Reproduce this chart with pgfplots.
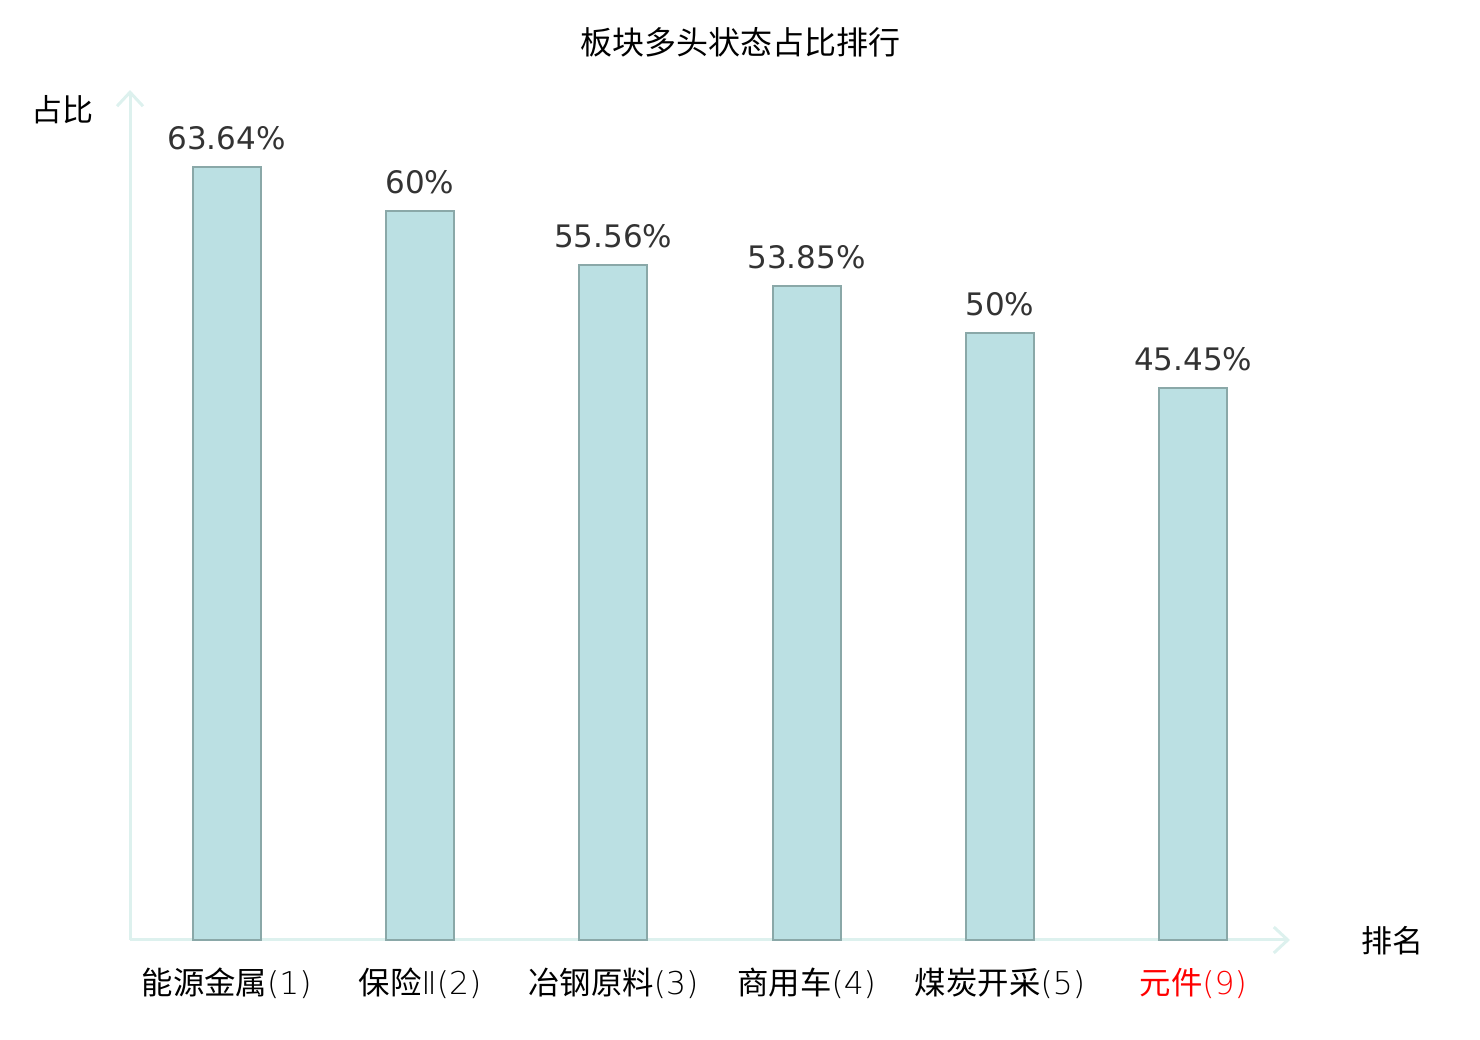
\documentclass[border=0pt]{standalone}
\usepackage{pgfplots}
\pgfplotsset{compat=1.18}
\usetikzlibrary{arrows.meta}
\usepackage{fontspec}
\setmainfont{DejaVu Sans}
\newfontfamily\cjk{Noto Sans CJK SC}
\newfontfamily\dvl{DejaVu Sans ExtraLight}
\definecolor{axcol}{HTML}{DDF1EE}
\definecolor{barfill}{HTML}{BBE0E3}
\definecolor{bardraw}{HTML}{8AA8A8}
\definecolor{lbl}{HTML}{333333}
\begin{document}
\begin{tikzpicture}
\useasboundingbox (0,0) rectangle (740pt,520pt);
\begin{axis}[
  at={(65pt,50pt)}, anchor=south west,
  scale only axis, width=580pt, height=425pt,
  xmin=-0.5, xmax=5.5, ymin=0, ymax=70,
  axis lines=left,
  axis line style={draw=axcol, line width=1.5pt, -{Straight Barb[length=7pt,width=13pt,line width=1.5pt]}},
  ytick=\empty,
  xtick={0,1,2,3,4,5},
  xticklabels={能源金属{\dvl(1)}, 保险{\dvl Ⅱ(2)}, 冶钢原料{\dvl(3)}, 商用车{\dvl(4)}, 煤炭开采{\dvl(5)}, {\color{red}元件{\dvl(9)}}},
  xtick style={draw=none},
  xticklabel style={font=\cjk\fontsize{15.7pt}{18pt}\selectfont, text=black, yshift=-6.3pt},
  ybar, bar width=34pt,
  point meta=explicit symbolic,
  nodes near coords={\pgfplotspointmeta},
  nodes near coords style={font=\fontsize{15.5pt}{18pt}\selectfont, text=lbl, anchor=south, inner sep=0pt, yshift=8pt},
  clip=false,
]
\addplot[fill=barfill, draw=bardraw, line width=1pt] coordinates {
 (0,63.64) [63.64\%]
 (1,60) [60\%]
 (2,55.56) [55.56\%]
 (3,53.85) [53.85\%]
 (4,50) [50\%]
 (5,45.45) [45.45\%]
};
\end{axis}
\node[font=\cjk\fontsize{16pt}{19pt}\selectfont] at (370pt,499pt) {板块多头状态占比排行};
\node[font=\cjk\fontsize{15.5pt}{18pt}\selectfont] at (31.5pt,465pt) {占比};
\node[font=\cjk\fontsize{15.5pt}{18pt}\selectfont] at (696pt,49.5pt) {排名};
\end{tikzpicture}
\end{document}
